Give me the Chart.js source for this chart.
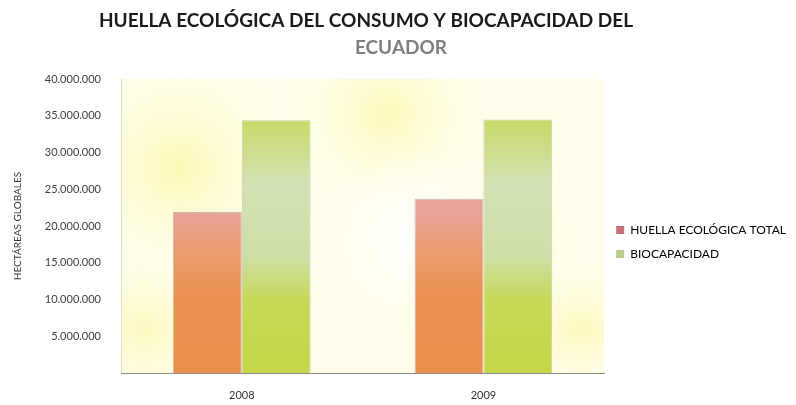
<!DOCTYPE html>
<html>
<head>
<meta charset="utf-8">
<script src="https://cdn.jsdelivr.net/npm/chart.js@4/dist/chart.umd.min.js"></script>
<style>
  html, body { margin: 0; padding: 0; background: #fff; }
  #wrap { width: 796px; height: 405px; }
</style>
</head>
<body>
<div id="wrap"><canvas id="grafico"></canvas></div>
<script>
// datos
const anios = ["2008", "2009"];
const huellaTotal = [21900000, 23700000];
const biocapacidad = [34400000, 34500000];
const nombresSeries = ["HUELLA ECOLÓGICA TOTAL", "BIOCAPACIDAD"];
const tituloLinea1 = "HUELLA ECOLÓGICA DEL CONSUMO Y BIOCAPACIDAD DEL";
const tituloLinea2 = "ECUADOR";
const colorLeyenda = ["#c8707a", "#b9cc8c"];

function formatoMiles(v) {
  return String(v).replace(/\B(?=(\d{3})+(?!\d))/g, ".");
}

// degradados de las barras
function degradado(ctx, paradas) {
  const chart = ctx.chart;
  const area = chart.chartArea;
  if (!area) return paradas[paradas.length - 1][1];
  const g = chart.ctx.createLinearGradient(0, area.top, 0, area.bottom);
  paradas.forEach(p => g.addColorStop(p[0], p[1]));
  return g;
}

// fondo amarillento del area de trazado
const fondo = {
  id: "fondo",
  beforeDatasetsDraw(chart) {
    const { ctx, chartArea: a } = chart;
    const w = a.right - a.left, h = a.bottom - a.top;
    ctx.save();
    ctx.beginPath();
    ctx.rect(a.left, a.top, w, h);
    ctx.clip();
    ctx.fillStyle = "rgba(255,252,215,0.55)";
    ctx.fillRect(a.left, a.top, w, h);
    const manchas = [
      [0.12, 0.30, 0.30, "rgba(250,245,160,0.75)"],
      [0.05, 0.85, 0.22, "rgba(250,246,170,0.7)"],
      [0.55, 0.12, 0.25, "rgba(250,244,150,0.6)"],
      [0.78, 0.60, 0.22, "rgba(252,248,185,0.6)"],
      [0.95, 0.85, 0.18, "rgba(250,245,165,0.7)"],
      [0.60, 0.55, 0.20, "rgba(255,255,255,0.8)"]
    ];
    manchas.forEach(m => {
      const cx = a.left + m[0] * w, cy = a.top + m[1] * h, r = m[2] * w;
      const g = ctx.createRadialGradient(cx, cy, 0, cx, cy, r);
      g.addColorStop(0, m[3]);
      g.addColorStop(1, "rgba(255,255,255,0)");
      ctx.fillStyle = g;
      ctx.fillRect(cx - r, cy - r, 2 * r, 2 * r);
    });
    ctx.restore();
  }
};

// titulo en dos colores
const titulo = {
  id: "titulo",
  afterDraw(chart) {
    const ctx = chart.ctx;
    ctx.save();
    ctx.textAlign = "center";
    ctx.textBaseline = "alphabetic";
    ctx.font = "bold 19px Lato";
    ctx.fillStyle = "#1a1a1a";
    ctx.fillText(tituloLinea1, 366, 27);
    ctx.fillStyle = "#7f7f7f";
    ctx.fillText(tituloLinea2, 401, 54);
    ctx.restore();
  }
};

const ctx = document.getElementById("grafico").getContext("2d");

new Chart(ctx, {
  type: "bar",
  data: {
    labels: anios,
    datasets: [
      {
        label: nombresSeries[0],
        data: huellaTotal,
        backgroundColor: c => degradado(c, [[0, "#eaa7a6"], [0.45, "#e9a49a"], [0.6, "#eb9a6c"], [0.75, "#ea9150"], [1, "#eb8f4c"]]),
        borderColor: "rgba(140,110,100,0.45)",
        borderWidth: 1
      },
      {
        label: nombresSeries[1],
        data: biocapacidad,
        backgroundColor: c => degradado(c, [[0, "#d2e2a8"], [0.15, "#c8d96a"], [0.35, "#d2e1b2"], [0.6, "#cddfa8"], [0.75, "#c7d858"], [1, "#c5d748"]]),
        borderColor: "rgba(140,150,100,0.45)",
        borderWidth: 1
      }
    ]
  },
  options: {
    responsive: true,
    maintainAspectRatio: false,
    animation: false,
    layout: { padding: { top: 79, left: 0, right: 0, bottom: 0 } },
    datasets: {
      bar: { barPercentage: 1, categoryPercentage: 0.57 }
    },
    plugins: {
      legend: {
        position: "right",
        labels: {
          boxWidth: 8,
          boxHeight: 8,
          padding: 12,
          color: "#333",
          font: { family: "Lato", size: 12 },
          generateLabels: chart => chart.data.datasets.map((d, i) => ({
            text: d.label,
            fillStyle: colorLeyenda[i],
            strokeStyle: colorLeyenda[i],
            lineWidth: 0,
            datasetIndex: i
          }))
        }
      },
      tooltip: { enabled: false }
    },
    scales: {
      x: {
        grid: { display: false, drawTicks: false },
        border: { display: true, color: "#8c8c8c" },
        ticks: { padding: 16, color: "#333", font: { family: "Lato", size: 11 } },
        afterFit: s => { s.height = 32; }
      },
      y: {
        min: 0,
        max: 40000000,
        grid: { display: false, drawTicks: false },
        border: { display: true, color: "#8c8c8c" },
        ticks: {
          stepSize: 5000000,
          padding: 20,
          color: "#404040",
          font: { family: "Lato", size: 11 },
          callback: v => v === 0 ? "" : formatoMiles(v)
        },
        title: {
          display: true,
          text: "HECTÁREAS GLOBALES",
          color: "#333",
          font: { family: "Lato", size: 10 },
          padding: { top: 12, bottom: 8 }
        },
        afterFit: s => { s.width = 121; }
      }
    }
  },
  plugins: [fondo, titulo]
});
</script>
</body>
</html>
